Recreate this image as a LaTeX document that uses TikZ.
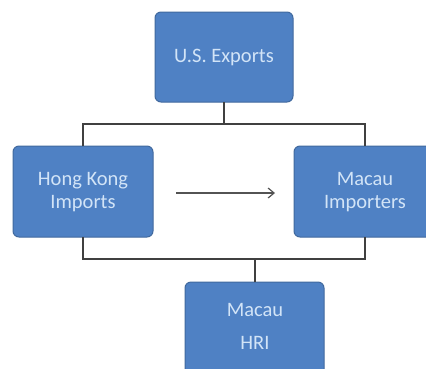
\documentclass[tikz,border=0pt]{standalone}
\usepackage{fontspec}
\setmainfont{Carlito}
\usetikzlibrary{arrows.meta}
\definecolor{boxfill}{HTML}{4F81C4}
\definecolor{boxedge}{HTML}{41699E}
\definecolor{boxtext}{HTML}{D2E4F7}
\definecolor{linecol}{HTML}{404040}
\begin{document}
\begin{tikzpicture}[x=1pt,y=-1pt,
  blk/.style={draw=boxedge, line width=1pt, fill=boxfill, rounded corners=6pt},
  lbl/.style={text=boxtext, font=\fontsize{20.5}{23}\selectfont, align=center, inner sep=0pt},
  conn/.style={draw=linecol, line width=2pt},
  arr/.style={draw=linecol!90, line width=1.2pt, -{Straight Barb[length=6pt,width=10pt]}}]
\useasboundingbox[fill=white] (0,0) rectangle (426,368);
% boxes
\draw[blk] (155,12) rectangle (293,102);
\node[lbl] (us) at (224,57) {U.S. Exports};
\coordinate (usb) at (224,102);
\draw[blk] (13,146) rectangle (153,237);
\node[lbl] (hk) at (83,192) {Hong Kong\\Imports};
\coordinate (hkt) at (83,146);
\coordinate (hkb) at (83,237);
\coordinate (hkr) at (176,193);
\draw[blk] (294,146) rectangle (432,237);
\node[lbl] (mi) at (365,192) {Macau\\Importers};
\coordinate (mit) at (365,146);
\coordinate (mib) at (365,237);
\coordinate (mil) at (275,193);
\draw[blk] (185,282) rectangle (324,375);
\node[lbl] (hri) at (255,326) {Macau\\[10pt]HRI};
\coordinate (hrit) at (255,282);
% connectors
\draw[conn] (usb) -- (224,124);
\draw[conn] (hkt) -- (83,124) -- (365,124) -- (mit);
\draw[conn] (hkb) -- (83,259) -- (365,259) -- (mib);
\draw[conn] (255,259) -- (hrit);
\draw[arr] (hkr) -- (mil);
\end{tikzpicture}
\end{document}
